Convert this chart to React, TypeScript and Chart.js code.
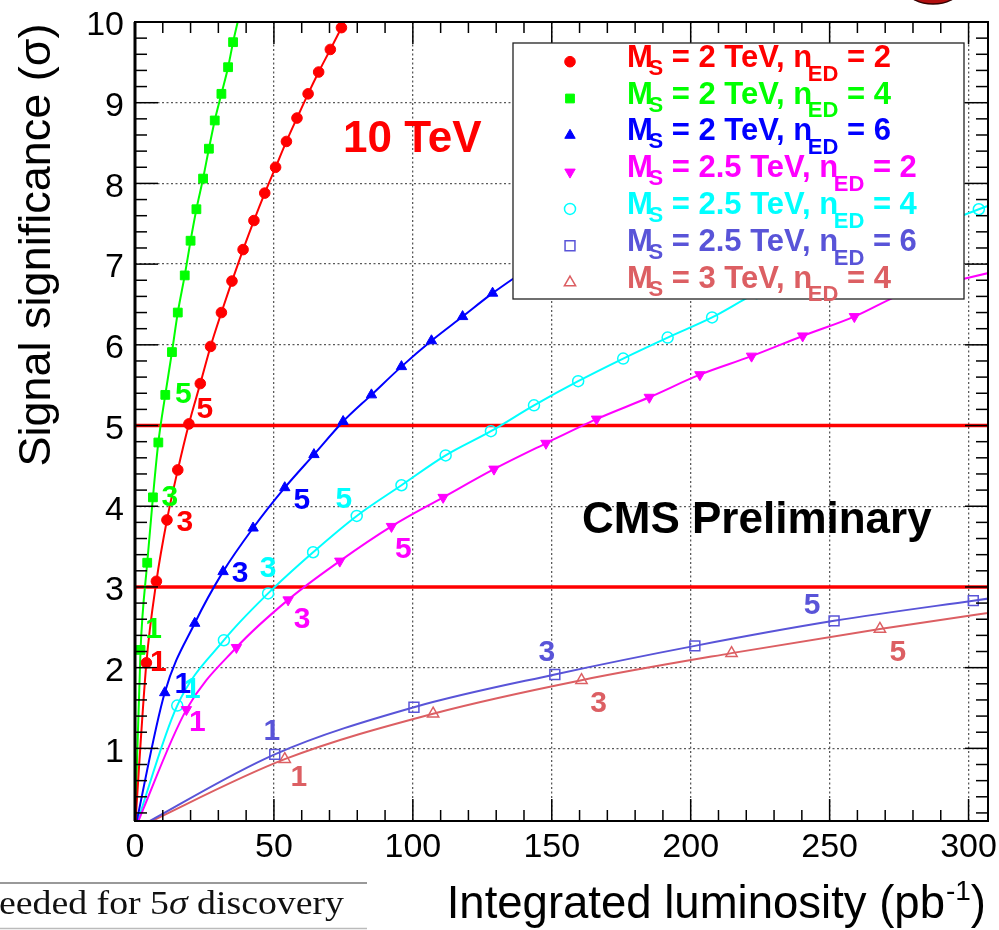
import React, { useEffect, useRef } from "react";
import { Chart, registerables } from "chart.js";

Chart.register(...registerables);

const SANS = '"Liberation Sans", Arial, Helvetica, sans-serif';
const SERIF = '"Liberation Serif", "Times New Roman", Times, serif';

// ---------- axes ----------
const X_MIN = 0;
const X_MAX = 307;
const Y_MIN = 0.1;
const Y_MAX = 10;
const X_TICKS = [0, 50, 100, 150, 200, 250, 300];
const Y_TICKS = [1, 2, 3, 4, 5, 6, 7, 8, 9, 10];
const X_MINOR_STEP = 10;
const Y_MINOR_STEP = 0.2;
const X_TITLE = "Integrated luminosity (pb^{-1})";
const Y_TITLE = "Signal significance (σ)";

// ---------- data (integrated luminosity in pb^-1, significance in sigma) ----------
const ms2n2Lumi = [0, 4.1, 7.7, 11.5, 15.4, 19.4, 23.5, 27.2, 31.1, 34.9, 38.9, 42.8, 46.7, 50.6, 54.5, 58.3, 62.3, 66.1, 70.3, 74.3];
const ms2n2Sig = [0, 2.06, 3.07, 3.83, 4.45, 5.02, 5.52, 5.98, 6.4, 6.79, 7.18, 7.54, 7.88, 8.2, 8.52, 8.81, 9.11, 9.38, 9.66, 9.93];

const ms2n4Lumi = [0, 2.0, 4.4, 6.45, 8.4, 10.9, 13.3, 15.4, 17.9, 20.0, 22.1, 24.5, 26.6, 28.7, 31.1, 33.5, 35.3, 37.5];
const ms2n4Sig = [0, 2.22, 3.3, 4.11, 4.79, 5.38, 5.91, 6.4, 6.86, 7.29, 7.68, 8.06, 8.43, 8.78, 9.11, 9.44, 9.75, 10.08];

const ms2n6Lumi = [0, 10.7, 21.5, 31.7, 42.5, 53.9, 64.4, 74.9, 85.1, 95.9, 106.7, 117.9, 128.7, 139.5, 150.2, 160.9, 171.6, 182.3, 193.0, 203.7];
const ms2n6Sig = [0, 1.69, 2.55, 3.19, 3.73, 4.23, 4.64, 5.05, 5.38, 5.73, 6.05, 6.35, 6.64, 6.9, 7.15, 7.39, 7.62, 7.85, 8.07, 8.28];

const ms25n2Lumi = [0, 18.5, 36.5, 55.1, 73.7, 92.3, 110.9, 129.2, 147.9, 166.1, 185.1, 203.3, 221.9, 240.3, 258.9, 277.5, 296.1, 314.6];
const ms25n2Sig = [0, 1.48, 2.25, 2.84, 3.32, 3.75, 4.11, 4.46, 4.78, 5.08, 5.35, 5.63, 5.86, 6.11, 6.35, 6.65, 6.8, 6.95];

const ms25n4Lumi = [0, 15.2, 32.0, 47.9, 64.1, 79.8, 95.9, 111.8, 128.1, 143.6, 159.5, 175.7, 191.7, 207.7, 223.7, 239.7, 255.7, 271.7, 287.7, 303.7, 319.7];
const ms25n4Sig = [0, 1.53, 2.34, 2.92, 3.43, 3.88, 4.26, 4.63, 4.93, 5.25, 5.55, 5.83, 6.09, 6.34, 6.64, 6.85, 7.06, 7.27, 7.47, 7.68, 7.88];

const ms25n6Lumi = [0, 50.3, 100.4, 151.1, 201.5, 251.6, 301.7, 351.8];
const ms25n6Sig = [0, 0.926, 1.51, 1.916, 2.27, 2.58, 2.83, 3.07];

const ms3n4Lumi = [0, 53.9, 107.3, 160.7, 214.7, 268.1, 321.6];
const ms3n4Sig = [0, 0.866, 1.43, 1.845, 2.18, 2.48, 2.75];

const SERIES_NAMES = [
  "M_{S} = 2 TeV, n_{ED} = 2",
  "M_{S} = 2 TeV, n_{ED} = 4",
  "M_{S} = 2 TeV, n_{ED} = 6",
  "M_{S} = 2.5 TeV, n_{ED} = 2",
  "M_{S} = 2.5 TeV, n_{ED} = 4",
  "M_{S} = 2.5 TeV, n_{ED} = 6",
  "M_{S} = 3 TeV, n_{ED} = 4",
];
const SERIES_X = [ms2n2Lumi, ms2n4Lumi, ms2n6Lumi, ms25n2Lumi, ms25n4Lumi, ms25n6Lumi, ms3n4Lumi];
const SERIES_Y = [ms2n2Sig, ms2n4Sig, ms2n6Sig, ms25n2Sig, ms25n4Sig, ms25n6Sig, ms3n4Sig];

const THRESHOLDS = [3, 5];
const LABELLED_POINTS = [1, 3, 5];

const ENERGY_TEXT = "10 TeV";
const CMS_TEXT = "CMS Preliminary";
const FOOT_TEXT = ["eeded for 5", "σ", " discovery"];

// ---------- styles ----------
type Style = { color: string; shape: string; filled: boolean; r: number; rot: number; off: number[][] };
const STYLES: Style[] = [
  { color: "#ff0000", shape: "circle", filled: true, r: 5.3, rot: 0, off: [[12, 0], [18, 3], [16, -14]] },
  { color: "#00ff00", shape: "rect", filled: true, r: 6.2, rot: 0, off: [[13, -20], [17, 0], [18, 0]] },
  { color: "#0000ff", shape: "triangle", filled: true, r: 6, rot: 0, off: [[18, -8], [17, 2], [17, 13]] },
  { color: "#ff00ff", shape: "triangle", filled: true, r: 6, rot: 180, off: [[11, 13], [14, 20], [12, 23]] },
  { color: "#00ffff", shape: "circle", filled: false, r: 5.5, rot: 0, off: [[15, -16], [0, -25], [-13, -16]] },
  { color: "#5954d8", shape: "rect", filled: false, r: 7, rot: 0, off: [[-3, -23], [-8, -22], [-22, -15]] },
  { color: "#dc5f63", shape: "triangle", filled: false, r: 6.5, rot: 0, off: [[14, 19], [17, 24], [18, 24]] },
];

const LEGEND = { left: 513, top: 43, right: 964, bottom: 299, markerX: 570, textX: 627, row0: 61.7, rowStep: 36.8, textDy: 5, size: 31 };

function richRuns(text: string) {
  const out: { t: string; kind: string }[] = [];
  const re = /([_^])\{([^}]*)\}/g;
  let last = 0;
  let m: RegExpExecArray | null;
  while ((m = re.exec(text))) {
    if (m.index > last) out.push({ t: text.slice(last, m.index), kind: "n" });
    out.push({ t: m[2], kind: m[1] === "_" ? "sub" : "sup" });
    last = re.lastIndex;
  }
  if (last < text.length) out.push({ t: text.slice(last), kind: "n" });
  return out;
}

function drawRich(ctx: CanvasRenderingContext2D, text: string, x: number, y: number, size: number, bold: boolean, align: string) {
  const runs = richRuns(text);
  const w = bold ? "bold " : "";
  const small = Math.round(size * (bold ? 0.7 : 0.62));
  const subOverlap = size * 0.14;
  const widths = runs.map((r) => {
    ctx.font = `${w}${r.kind === "n" ? size : small}px ${SANS}`;
    const mw = ctx.measureText(r.t).width;
    return r.kind === "sub" ? mw - subOverlap : r.kind === "sup" ? mw + 1 : mw;
  });
  const total = widths.reduce((a, b) => a + b, 0);
  let cx = align === "right" ? x - total : x;
  ctx.textAlign = "left";
  ctx.textBaseline = "alphabetic";
  runs.forEach((r, i) => {
    if (r.kind === "n") {
      ctx.font = `${w}${size}px ${SANS}`;
      ctx.fillText(r.t, cx, y);
    } else if (r.kind === "sub") {
      ctx.font = `${w}${small}px ${SANS}`;
      const dy = size * (r.t.length > 1 ? 0.45 : 0.26);
      ctx.fillText(r.t, cx - subOverlap, y + dy);
    } else {
      ctx.font = `${w}${small}px ${SANS}`;
      ctx.fillText(r.t, cx + 1, y - size * 0.4);
    }
    cx += widths[i];
  });
}

function drawMarker(ctx: CanvasRenderingContext2D, st: Style, x: number, y: number) {
  ctx.save();
  ctx.beginPath();
  if (st.shape === "circle") {
    ctx.arc(x, y, st.r, 0, Math.PI * 2);
  } else if (st.shape === "rect") {
    const h = st.r * Math.SQRT1_2;
    ctx.rect(x - h, y - h, 2 * h, 2 * h);
  } else {
    let a = (st.rot * Math.PI) / 180;
    ctx.moveTo(x + Math.sin(a) * st.r, y - Math.cos(a) * st.r);
    a += (2 * Math.PI) / 3;
    ctx.lineTo(x + Math.sin(a) * st.r, y - Math.cos(a) * st.r);
    a += (2 * Math.PI) / 3;
    ctx.lineTo(x + Math.sin(a) * st.r, y - Math.cos(a) * st.r);
    ctx.closePath();
  }
  if (st.filled) {
    ctx.fillStyle = st.color;
    ctx.fill();
  }
  ctx.strokeStyle = st.color;
  ctx.lineWidth = st.filled ? 1 : 1.5;
  ctx.stroke();
  ctx.restore();
}

const decorPlugin = {
  id: "decor",
  afterDraw(chart: any) {
    const ctx: CanvasRenderingContext2D = chart.ctx;
    const a = chart.chartArea;
    const xs = chart.scales.x;
    const ys = chart.scales.y;
    ctx.save();

    // ticks (ROOT style, inward on all sides)
    ctx.strokeStyle = "#000";
    ctx.lineWidth = 1.5;
    const line = (x1: number, y1: number, x2: number, y2: number) => {
      ctx.beginPath();
      ctx.moveTo(x1, y1);
      ctx.lineTo(x2, y2);
      ctx.stroke();
    };
    for (let k = 0; X_MIN + k * X_MINOR_STEP <= X_MAX + 1e-9; k++) {
      const v = X_MIN + k * X_MINOR_STEP;
      const px = xs.getPixelForValue(v);
      const major = X_TICKS.includes(v);
      const L = major ? 22 : 11;
      line(px, a.bottom, px, a.bottom - L);
      line(px, a.top, px, a.top + L);
    }
    for (let k = 1; k * Y_MINOR_STEP <= Y_MAX + 1e-9; k++) {
      const v = Math.round(k * Y_MINOR_STEP * 1000) / 1000;
      if (v < Y_MIN) continue;
      const py = ys.getPixelForValue(v);
      const major = Y_TICKS.includes(v);
      const L = major ? 23 : 12;
      line(a.left, py, a.left + L, py);
      line(a.right, py, a.right - L, py);
    }
    // frame
    ctx.lineWidth = 2;
    ctx.strokeRect(a.left, a.top, a.right - a.left, a.bottom - a.top);
    ctx.lineWidth = 3;
    line(a.left, a.top, a.left, a.bottom);

    // point-number annotations
    ctx.font = `bold 30px ${SANS}`;
    ctx.textAlign = "center";
    ctx.textBaseline = "middle";
    STYLES.forEach((st, i) => {
      const meta = chart.getDatasetMeta(i);
      LABELLED_POINTS.forEach((p, k) => {
        const el = meta.data[p];
        if (!el) return;
        ctx.fillStyle = st.color;
        ctx.fillText(String(p), el.x + st.off[k][0], el.y + st.off[k][1]);
      });
    });

    // texts
    ctx.textAlign = "left";
    ctx.textBaseline = "alphabetic";
    ctx.font = `bold 44px ${SANS}`;
    ctx.fillStyle = "#ff0000";
    ctx.fillText(ENERGY_TEXT, 343, 152);
    ctx.fillStyle = "#000";
    ctx.fillText(CMS_TEXT, 582, 533);

    // legend
    ctx.fillStyle = "#fff";
    ctx.fillRect(LEGEND.left, LEGEND.top, LEGEND.right - LEGEND.left, LEGEND.bottom - LEGEND.top);
    ctx.strokeStyle = "#222";
    ctx.lineWidth = 1.3;
    ctx.strokeRect(LEGEND.left, LEGEND.top, LEGEND.right - LEGEND.left, LEGEND.bottom - LEGEND.top);
    STYLES.forEach((st, i) => {
      const y = LEGEND.row0 + LEGEND.rowStep * i;
      drawMarker(ctx, st, LEGEND.markerX, y);
      ctx.fillStyle = st.color;
      drawRich(ctx, chart.data.datasets[i].label, LEGEND.textX, y + LEGEND.textDy, LEGEND.size, true, "left");
    });

    // axis titles
    ctx.fillStyle = "#000";
    drawRich(ctx, X_TITLE, 986, 918, 45.5, false, "right");
    ctx.save();
    ctx.translate(50, 245);
    ctx.rotate(-Math.PI / 2);
    ctx.font = `45px ${SANS}`;
    ctx.textAlign = "center";
    ctx.fillText(Y_TITLE, 0, 0);
    ctx.restore();

    // footnote fragment bottom-left
    ctx.strokeStyle = "#777";
    ctx.lineWidth = 1.5;
    line(0, 883, 367, 883);
    ctx.strokeStyle = "#bbb";
    line(0, 928.5, 367, 928.5);
    ctx.save();
    const fs = 33;
    const fonts = [`${fs}px ${SERIF}`, `italic ${fs}px ${SERIF}`, `${fs}px ${SERIF}`];
    const ws = FOOT_TEXT.map((t, i) => {
      ctx.font = fonts[i];
      return ctx.measureText(t).width;
    });
    const tot = ws.reduce((p, q) => p + q, 0);
    ctx.translate(-1, 914);
    ctx.scale(345 / tot, 1);
    let fx = 0;
    ctx.fillStyle = "#111";
    FOOT_TEXT.forEach((t, i) => {
      ctx.font = fonts[i];
      ctx.fillText(t, fx, 0);
      fx += ws[i];
    });
    ctx.restore();

    // partial red emblem at top-right edge
    ctx.beginPath();
    ctx.ellipse(933, -9, 25, 13, 0, 0, Math.PI * 2);
    ctx.fillStyle = "#b31010";
    ctx.fill();
    ctx.strokeStyle = "#300";
    ctx.lineWidth = 1.5;
    ctx.stroke();

    ctx.restore();
  },
};

export default function App() {
  const ref = useRef<HTMLCanvasElement>(null);
  useEffect(() => {
    const canvas = ref.current;
    if (!canvas) return;
    const seriesSets = SERIES_NAMES.map((name, i) => {
      const st = STYLES[i];
      return {
        label: name,
        data: SERIES_X[i].map((x, j) => ({ x, y: SERIES_Y[i][j] })),
        showLine: true,
        borderColor: st.color,
        backgroundColor: st.filled ? st.color : "rgba(0,0,0,0)",
        borderWidth: 2,
        pointStyle: st.shape,
        pointRotation: st.rot,
        pointRadius: (c: any) => (c.dataIndex === 0 ? 0 : st.r),
        pointBorderColor: st.color,
        pointBackgroundColor: st.filled ? st.color : "rgba(0,0,0,0)",
        pointBorderWidth: st.filled ? 1 : 1.5,
        cubicInterpolationMode: "monotone",
      };
    });
    const thresholdSets = THRESHOLDS.map((t) => ({
      label: `${t} sigma`,
      data: [
        { x: X_MIN, y: t },
        { x: X_MAX, y: t },
      ],
      showLine: true,
      borderColor: "#ff0000",
      borderWidth: 3.5,
      pointRadius: 0,
    }));
    const chart = new Chart(canvas, {
      type: "scatter",
      data: { datasets: [...seriesSets, ...thresholdSets] as any },
      options: {
        responsive: false,
        animation: false,
        devicePixelRatio: 1,
        events: [],
        layout: { padding: { left: 0, top: 22, right: 11, bottom: 0 } },
        plugins: { legend: { display: false }, tooltip: { enabled: false }, title: { display: false } },
        scales: {
          x: {
            type: "linear",
            min: X_MIN,
            max: X_MAX,
            afterBuildTicks: (s: any) => {
              s.ticks = X_TICKS.map((value) => ({ value }));
            },
            afterFit: (s: any) => {
              s.height = 109;
              s.paddingLeft = 0;
              s.paddingRight = 0;
            },
            ticks: { font: { family: SANS, size: 34 }, color: "#000", padding: 6, maxRotation: 0, autoSkip: false },
            grid: { color: "#5a5a5a", lineWidth: 1.3, drawTicks: false },
            border: { display: false, dash: [2, 2.5] },
          },
          y: {
            type: "linear",
            min: Y_MIN,
            max: Y_MAX,
            afterBuildTicks: (s: any) => {
              s.ticks = Y_TICKS.map((value) => ({ value }));
            },
            afterFit: (s: any) => {
              s.width = 135;
              s.paddingTop = 0;
              s.paddingBottom = 0;
            },
            ticks: { font: { family: SANS, size: 34 }, color: "#000", padding: 11, labelOffset: 4, autoSkip: false },
            grid: { color: "#5a5a5a", lineWidth: 1.3, drawTicks: false },
            border: { display: false, dash: [2, 2.5] },
          },
        },
      } as any,
      plugins: [decorPlugin],
    });
    return () => chart.destroy();
  }, []);
  return (
    <div style={{ position: "absolute", left: 0, top: 0, width: 999, height: 930, background: "#fff", overflow: "hidden" }}>
      <canvas ref={ref} width={999} height={930} style={{ display: "block", width: 999, height: 930 }} />
    </div>
  );
}
